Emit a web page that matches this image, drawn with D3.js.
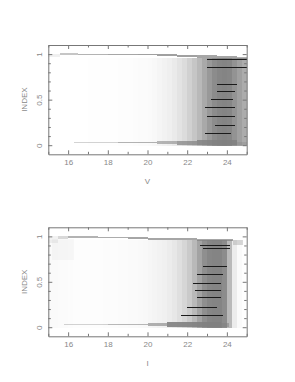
<!DOCTYPE html>
<html>
<head>
<meta charset="utf-8">
<script src="https://cdn.jsdelivr.net/npm/d3@7"></script>
<style>
  body { margin: 0; background: #fff; }
  svg text { font-family: "Liberation Sans", Arial, sans-serif; font-size: 8px; fill: #888; }
</style>
</head>
<body>
<script>
// magnitude bins (start of each 0.25 mag column)
const magBins = [15, 15.25, 15.5, 15.75, 16, 16.25, 16.5, 16.75, 17, 17.25,
  17.5, 17.75, 18, 18.25, 18.5, 18.75, 19, 19.25, 19.5, 19.75,
  20, 20.25, 20.5, 20.75, 21, 21.25, 21.5, 21.75, 22, 22.25,
  22.5, 22.75, 23, 23.25, 23.5, 23.75, 24, 24.25, 24.5, 24.75]

// fraction of each column covered by points (diffuse cloud between INDEX 0 and ~0.96)
const vCloud = [0.005, 0.005, 0.005, 0.005, 0.005, 0.005, 0.005, 0.005, 0.006, 0.006,
  0.008, 0.008, 0.01, 0.012, 0.015, 0.018, 0.02, 0.025, 0.03, 0.035,
  0.045, 0.06, 0.08, 0.1, 0.13, 0.17, 0.22, 0.28, 0.36, 0.45,
  0.55, 0.68, 0.8, 0.9, 0.95, 0.97, 0.95, 0.85, 0.75, 0.65]
const iCloud = [0.04, 0.04, 0.035, 0.03, 0.025, 0.02, 0.02, 0.02, 0.02, 0.02,
  0.02, 0.022, 0.025, 0.028, 0.03, 0.035, 0.04, 0.045, 0.05, 0.06,
  0.07, 0.085, 0.1, 0.12, 0.15, 0.19, 0.25, 0.32, 0.42, 0.55,
  0.72, 0.88, 0.95, 0.97, 0.97, 0.9, 0.55, 0.15, 0.04, 0.01]

// dense bands: [mag from, mag to, index low, index high, coverage]
const vBands = [
  [15.0, 15.6, 0.965, 1.005, 0.12], [15.6, 16.5, 0.995, 1.008, 0.45],
  [16.5, 18.0, 0.993, 1.006, 0.6], [18.0, 19.5, 0.99, 1.004, 0.7],
  [19.5, 20.5, 0.985, 1.0, 0.75], [20.5, 21.5, 0.978, 0.997, 0.75],
  [21.5, 22.5, 0.97, 0.992, 0.75], [22.5, 23.5, 0.962, 0.985, 0.7],
  [23.5, 24.5, 0.955, 0.978, 0.7], [24.5, 25.0, 0.945, 0.972, 0.6],
  [16.3, 18.5, 0.027, 0.038, 0.35], [18.5, 20.5, 0.026, 0.04, 0.6],
  [20.5, 21.5, 0.015, 0.045, 0.55], [21.5, 22.5, 0.0, 0.05, 0.7],
  [22.5, 24.5, 0.0, 0.055, 0.8], [24.5, 25.0, 0.0, 0.04, 0.3]
]
const iBands = [
  [15.0, 15.5, 0.93, 1.0, 0.1], [15.5, 16.0, 0.97, 1.0, 0.3],
  [16.0, 17.5, 0.985, 1.0, 0.6], [17.5, 19.0, 0.978, 0.995, 0.65],
  [19.0, 20.0, 0.97, 0.99, 0.7], [20.0, 21.0, 0.962, 0.985, 0.7],
  [21.0, 22.5, 0.955, 0.98, 0.7], [22.5, 24.3, 0.95, 0.975, 0.7],
  [24.3, 24.8, 0.91, 0.96, 0.3], [15.2, 16.3, 0.74, 0.97, 0.05],
  [15.8, 18.0, 0.028, 0.038, 0.35], [18.0, 20.0, 0.026, 0.04, 0.55],
  [20.0, 21.0, 0.01, 0.05, 0.6], [21.0, 23.7, 0.0, 0.06, 0.9],
  [23.7, 24.1, 0.0, 0.05, 0.5]
]

// quantised INDEX values showing as dark streaks: [index, mag from, mag to]
const vStreaks = [[0.945, 23.0, 25.0], [0.862, 23.0, 25.0], [0.673, 23.5, 24.5],
  [0.59, 23.5, 24.4], [0.505, 23.2, 24.3], [0.414, 22.9, 24.4],
  [0.323, 23.0, 24.4], [0.223, 23.4, 24.4], [0.131, 22.9, 24.2]]
const iStreaks = [[0.908, 22.65, 24.15], [0.871, 22.8, 24.15], [0.673, 22.8, 24.0],
  [0.59, 22.5, 23.8], [0.485, 22.3, 23.7], [0.408, 22.4, 23.7],
  [0.33, 22.5, 23.7], [0.222, 22.0, 23.5], [0.133, 21.7, 23.8]]

const xTicksMajor = [16, 18, 20, 22, 24]
const xTicksMinor = [15, 17, 19, 21, 23, 25]
const yTicksMajor = [0, 0.5, 1]
const yTicksMinor = [0.1, 0.2, 0.3, 0.4, 0.6, 0.7, 0.8, 0.9]

const svg = d3.select('body').append('svg')
  .attr('width', 295)
  .attr('height', 382)

const x = d3.scaleLinear().domain([15, 25]).range([48.3, 246.7])

function panel (top, bottom, cloud, bands, streaks, xName) {
  const y = d3.scaleLinear().domain([-0.1, 1.1]).range([bottom, top])
  const g = svg.append('g')
  const dots = g.append('g').attr('shape-rendering', 'crispEdges')

  dots.selectAll('rect.cloud')
    .data(magBins)
    .enter().append('rect')
    .attr('x', d => x(d))
    .attr('width', d => x(d + 0.25) - x(d))
    .attr('y', y(0.96))
    .attr('height', y(-0.005) - y(0.96))
    .attr('fill', '#808080')
    .attr('fill-opacity', (d, i) => cloud[i])

  dots.selectAll('rect.band')
    .data(bands)
    .enter().append('rect')
    .attr('x', d => x(d[0]))
    .attr('width', d => x(d[1]) - x(d[0]))
    .attr('y', d => y(d[3]))
    .attr('height', d => Math.max(1, y(d[2]) - y(d[3])))
    .attr('fill', '#808080')
    .attr('fill-opacity', d => d[4])

  dots.selectAll('line')
    .data(streaks)
    .enter().append('line')
    .attr('x1', d => x(d[1]))
    .attr('x2', d => x(d[2]))
    .attr('y1', d => Math.round(y(d[0])) + 0.5)
    .attr('y2', d => Math.round(y(d[0])) + 0.5)
    .attr('stroke', '#1a1a1a')
    .attr('stroke-width', 1)

  // frame and ticks on all four sides
  const axes = [
    [d3.axisBottom(x), `translate(0,${bottom})`, xTicksMajor, xTicksMinor, true],
    [d3.axisTop(x), `translate(0,${top})`, xTicksMajor, xTicksMinor, false],
    [d3.axisLeft(y), `translate(${x(15)},0)`, yTicksMajor, yTicksMinor, true],
    [d3.axisRight(y), `translate(${x(25)},0)`, yTicksMajor, yTicksMinor, false]
  ]
  axes.forEach(([ax, tr, major, minor, labels]) => {
    const a = g.append('g').attr('transform', tr)
    a.call(ax.tickValues(major).tickSizeInner(-4).tickSizeOuter(0).tickPadding(5)
      .tickFormat(labels ? d3.format('') : ''))
    a.append('g').call(ax.tickValues(minor).tickSizeInner(-2.5).tickFormat(''))
      .select('.domain').remove()
    a.selectAll('line').attr('stroke', '#777')
    a.selectAll('.domain').attr('stroke', '#777')
    a.selectAll('text').attr('fill', '#888').attr('font-family', null).attr('font-size', null)
  })
  g.selectAll('.domain').attr('stroke', '#777')

  // rotated y labels
  g.selectAll('g').filter(function () { return this.getAttribute('transform') === `translate(${x(15)},0)` })
    .selectAll('.tick text')
    .attr('x', null).attr('dy', '0.35em')
    .attr('text-anchor', 'middle')
    .attr('transform', 'translate(-9,0) rotate(-90)')

  g.append('text')
    .attr('transform', `translate(24.5,${(top + bottom) / 2}) rotate(-90)`)
    .attr('text-anchor', 'middle')
    .attr('dy', '0.35em')
    .text('INDEX')

  g.append('text')
    .attr('x', (x(15) + x(25)) / 2)
    .attr('y', bottom + 26.5)
    .attr('dy', '0.35em')
    .attr('text-anchor', 'middle')
    .text(xName)
}

panel(45, 154.3, vCloud, vBands, vStreaks, 'V')
panel(227.3, 336.3, iCloud, iBands, iStreaks, 'I')
</script>
</body>
</html>
